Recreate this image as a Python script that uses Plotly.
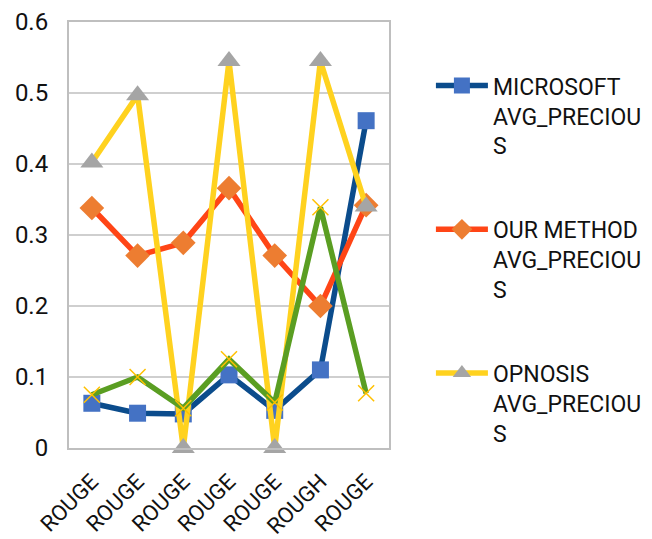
import plotly.graph_objects as go

categories = ["ROUGE", "ROUGE", "ROUGE", "ROUGE", "ROUGE", "ROUGH", "ROUGE"]
microsoft = [0.063, 0.049, 0.048, 0.103, 0.053, 0.110, 0.461]
our_method = [0.338, 0.271, 0.289, 0.366, 0.271, 0.200, 0.342]
opnosis = [0.402, 0.497, 0.0, 0.545, 0.0, 0.545, 0.340]
fourth = [0.075, 0.100, 0.056, 0.125, 0.064, 0.339, 0.077]
y_ticks = [0, 0.1, 0.2, 0.3, 0.4, 0.5, 0.6]
y_tick_text = ["0", "0.1", "0.2", "0.3", "0.4", "0.5", "0.6"]

x = list(range(len(categories)))
FONT = "Roboto, Liberation Sans, Arial, sans-serif"

fig = go.Figure()
fig.add_trace(go.Scatter(
    x=x, y=microsoft, mode="lines+markers", name="MICROSOFT<br>AVG_PRECIOU<br>S",
    legendgroup="a", cliponaxis=False,
    line=dict(color="#0B4C8C", width=5.5),
    marker=dict(symbol="square", size=17, color="#4472C4"),
))
fig.add_trace(go.Scatter(
    x=x, y=our_method, mode="lines+markers", name="OUR METHOD<br>AVG_PRECIOU<br>S",
    legendgroup="b", cliponaxis=False,
    line=dict(color="#FF4516", width=5.5),
    marker=dict(symbol="diamond", size=19, color="#ED7D31"),
))
fig.add_trace(go.Scatter(
    x=x, y=opnosis, mode="lines+markers", name="OPNOSIS<br>AVG_PRECIOU<br>S",
    legendgroup="c", cliponaxis=False,
    line=dict(color="#FFD21F", width=5.5),
    marker=dict(symbol="triangle-up", size=20, color="#A5A5A5"),
))
fig.add_trace(go.Scatter(
    x=x, y=fourth, mode="lines+markers", showlegend=False, cliponaxis=False,
    line=dict(color="#5A9E22", width=5.5),
    marker=dict(symbol="x-thin", size=16, line=dict(color="#FFC000", width=1.5)),
))

fig.update_layout(
    width=652, height=539,
    margin=dict(l=69, r=263, t=22, b=91, autoexpand=False),
    paper_bgcolor="white", plot_bgcolor="white",
    font=dict(family=FONT, color="#111111", size=22),
    legend=dict(
        x=1.131, xanchor="left", xref="paper", y=0.901, yanchor="top",
        font=dict(size=23, family=FONT, color="#111111"),
        valign="top", tracegroupgap=51, itemwidth=52,
    ),
)
fig.update_xaxes(
    range=[-0.5, 6.5], tickmode="array", tickvals=x, ticktext=categories,
    tickangle=-45, showgrid=False, zeroline=False, automargin=False,
    showline=True, mirror=True, linecolor="#BFBFBF", linewidth=2,
    tickfont=dict(size=22), ticks="", ticklabelstandoff=10,
)
fig.update_yaxes(
    range=[0, 0.6], tickmode="array", tickvals=y_ticks, ticktext=y_tick_text,
    showgrid=True, gridcolor="#CFCFCF", gridwidth=1.5, zeroline=False, automargin=False,
    showline=True, mirror=True, linecolor="#BFBFBF", linewidth=2,
    tickfont=dict(size=24), ticks="", ticklabelstandoff=14,
)

fig.write_html("out.html")
